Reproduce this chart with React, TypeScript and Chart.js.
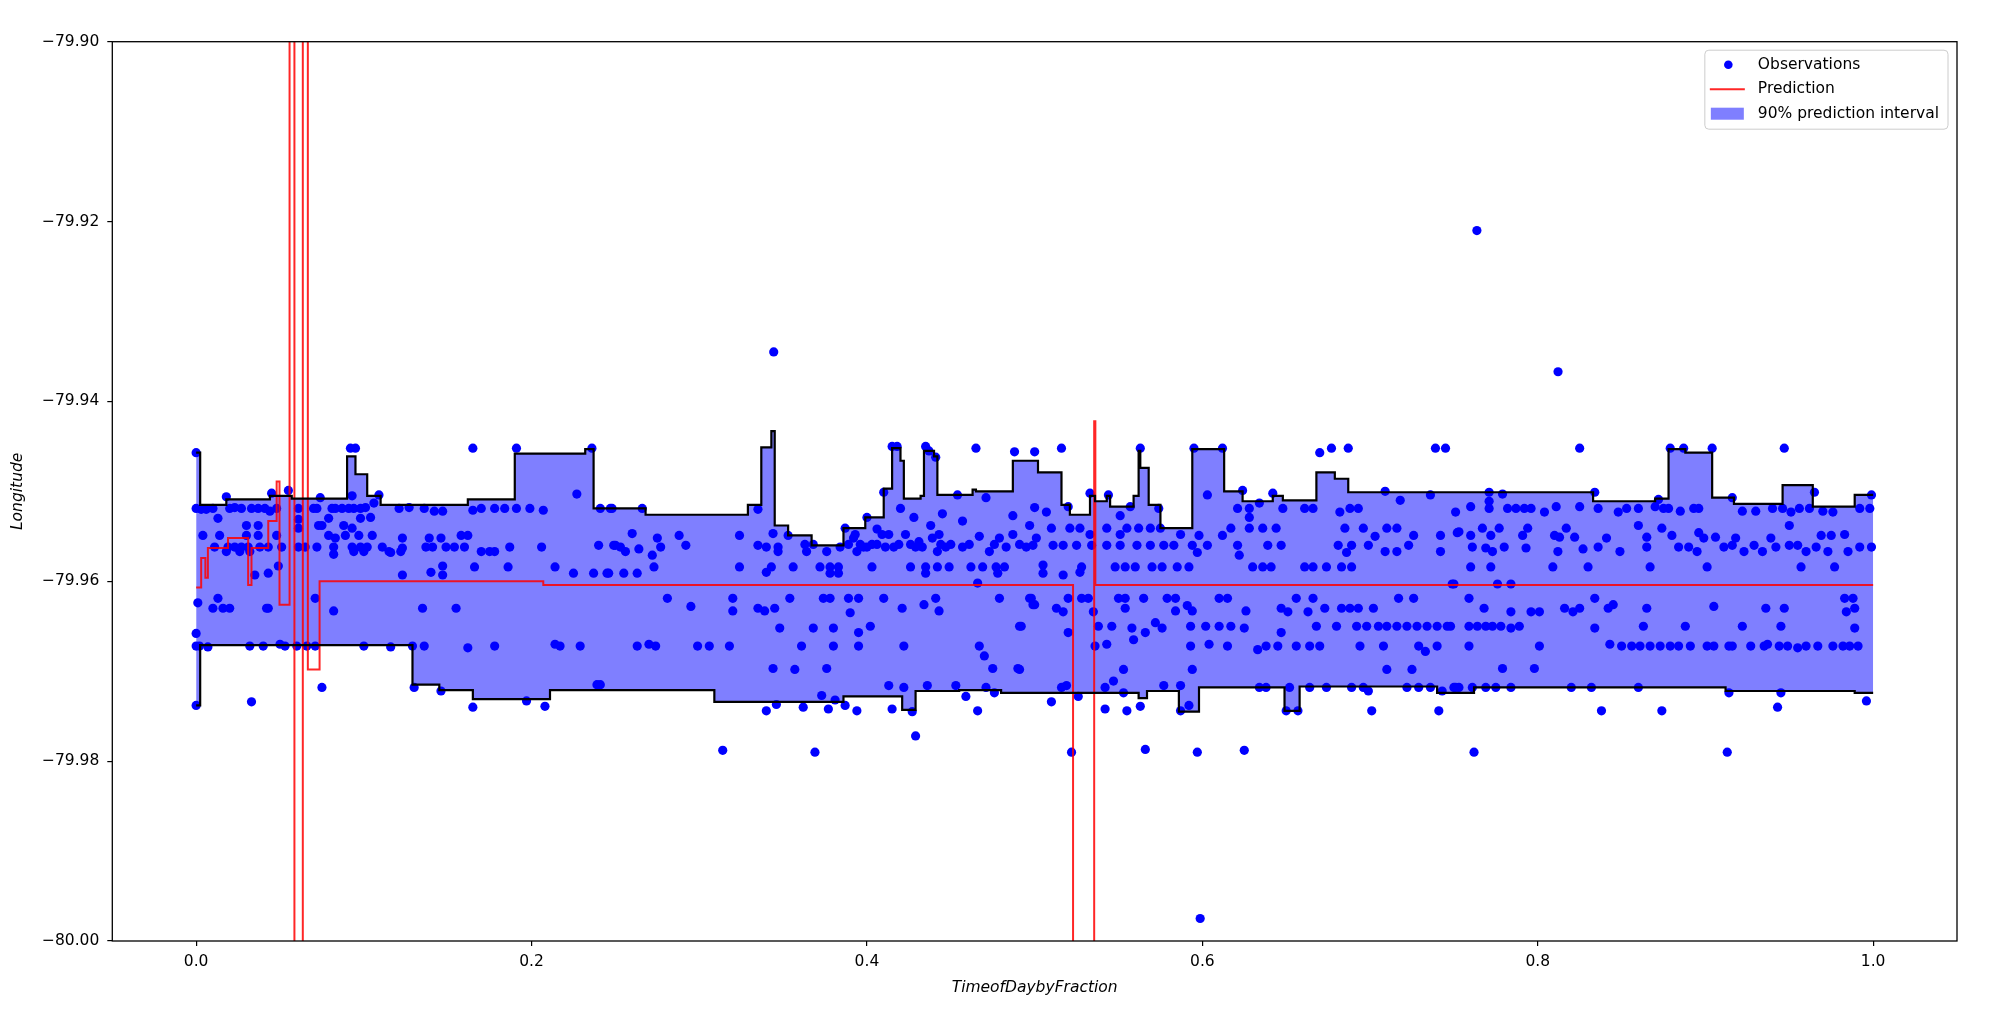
import { useEffect, useRef } from "react";
import { Chart, registerables } from "chart.js";

Chart.register(...registerables);

// tick positions
const xTicks = [0, 0.2, 0.4, 0.6, 0.8, 1.0];
const yTicks = [-80.0, -79.98, -79.96, -79.94, -79.92, -79.9];

// observations [time fraction, longitude]
const observations: [number, number][] = [
  // 0.00 - 0.25
  [0.000, -79.9457], [0.092, -79.9452], [0.095, -79.9452], [0.165, -79.9452], [0.191, -79.9452], [0.236, -79.9452],
  [0.018, -79.9506], [0.045, -79.9502], [0.055, -79.9499], [0.074, -79.9507], [0.093, -79.9505], [0.109, -79.9504], [0.227, -79.9503],
  [0.000, -79.9519], [0.003, -79.952], [0.006, -79.952], [0.010, -79.9519], [0.020, -79.9519], [0.023, -79.9518], [0.027, -79.9519],
  [0.033, -79.9519], [0.037, -79.9519], [0.041, -79.9519], [0.048, -79.9519], [0.061, -79.9519], [0.070, -79.9519], [0.072, -79.9519],
  [0.081, -79.9519], [0.083, -79.9519], [0.087, -79.9519], [0.091, -79.9519], [0.094, -79.9519], [0.098, -79.9519], [0.101, -79.9518],
  [0.106, -79.9513], [0.121, -79.9519], [0.127, -79.9518], [0.136, -79.9519], [0.142, -79.9522], [0.147, -79.9522], [0.165, -79.9521],
  [0.170, -79.9519], [0.178, -79.9519], [0.184, -79.9519], [0.191, -79.9519], [0.199, -79.9519], [0.207, -79.9521], [0.241, -79.9519],
  [0.248, -79.9519],
  [0.013, -79.953], [0.079, -79.953], [0.098, -79.953], [0.104, -79.9529], [0.044, -79.9522], [0.061, -79.9531],
  [0.030, -79.9538], [0.037, -79.9538], [0.073, -79.9538], [0.075, -79.9538], [0.088, -79.9538], [0.093, -79.9541], [0.061, -79.9541],
  [0.004, -79.9549], [0.014, -79.9549], [0.030, -79.9549], [0.037, -79.9549], [0.048, -79.9549], [0.079, -79.9549], [0.083, -79.9552],
  [0.089, -79.9549], [0.097, -79.9549], [0.105, -79.9549], [0.123, -79.9552], [0.139, -79.9552], [0.146, -79.9552], [0.158, -79.9549],
  [0.162, -79.9549],
  [0.011, -79.9562], [0.019, -79.9562], [0.023, -79.9562], [0.027, -79.9562], [0.031, -79.9562], [0.038, -79.9562], [0.043, -79.9562],
  [0.051, -79.9562], [0.061, -79.9562], [0.065, -79.9562], [0.072, -79.9562], [0.082, -79.9562], [0.093, -79.9562], [0.098, -79.9562],
  [0.102, -79.9562], [0.111, -79.9562], [0.115, -79.9567], [0.123, -79.9563], [0.137, -79.9562], [0.141, -79.9562], [0.149, -79.9562],
  [0.154, -79.9562], [0.160, -79.9562], [0.170, -79.9567], [0.175, -79.9567], [0.178, -79.9567], [0.187, -79.9562], [0.206, -79.9562],
  [0.240, -79.956], [0.250, -79.956],
  [0.018, -79.9567], [0.026, -79.9567], [0.032, -79.9567], [0.082, -79.957], [0.094, -79.9567], [0.100, -79.9567], [0.116, -79.9568],
  [0.122, -79.9567],
  [0.049, -79.9583], [0.123, -79.9593], [0.147, -79.9583], [0.166, -79.9584], [0.186, -79.9584], [0.214, -79.9584],
  [0.035, -79.9593], [0.043, -79.9591], [0.140, -79.959], [0.147, -79.9593], [0.225, -79.9591], [0.237, -79.9591], [0.246, -79.9591],
  [0.071, -79.9619], [0.001, -79.9624], [0.010, -79.963], [0.013, -79.9619], [0.016, -79.963], [0.020, -79.963], [0.042, -79.963],
  [0.043, -79.963], [0.082, -79.9633], [0.135, -79.963], [0.155, -79.963], [0.000, -79.9658],
  [0.000, -79.9672], [0.002, -79.9672], [0.007, -79.9673], [0.032, -79.9672], [0.040, -79.9672], [0.050, -79.967], [0.053, -79.9672],
  [0.060, -79.9672], [0.066, -79.9672], [0.071, -79.9672], [0.100, -79.9672], [0.116, -79.9673], [0.129, -79.9672], [0.136, -79.9672],
  [0.162, -79.9674], [0.178, -79.9672], [0.214, -79.967], [0.217, -79.9672], [0.229, -79.9672],
  [0.000, -79.9738], [0.033, -79.9734], [0.075, -79.9718], [0.130, -79.9718], [0.146, -79.9722], [0.165, -79.974], [0.197, -79.9733],
  [0.208, -79.9739], [0.239, -79.9715],
  // 0.25 - 0.50
  [0.415, -79.945], [0.418, -79.945], [0.435, -79.945], [0.437, -79.9455], [0.441, -79.9462], [0.465, -79.9452], [0.488, -79.9456],
  [0.500, -79.9456], [0.410, -79.9501], [0.454, -79.9504], [0.471, -79.9507], [0.3444, -79.9345],
  [0.247, -79.9519], [0.266, -79.9519], [0.335, -79.952], [0.420, -79.9519], [0.445, -79.9525], [0.500, -79.9518],
  [0.428, -79.9529], [0.457, -79.9533], [0.487, -79.9527], [0.400, -79.9529],
  [0.438, -79.9538], [0.497, -79.9538], [0.344, -79.9547], [0.387, -79.9541], [0.393, -79.9548],
  [0.260, -79.9547], [0.275, -79.9552], [0.288, -79.9549], [0.324, -79.9549], [0.353, -79.9549], [0.363, -79.9559], [0.364, -79.9567],
  [0.249, -79.956], [0.253, -79.9562], [0.256, -79.9567], [0.264, -79.9564], [0.272, -79.9571], [0.277, -79.9562], [0.292, -79.956],
  [0.335, -79.956], [0.340, -79.9562], [0.347, -79.9562], [0.347, -79.9567], [0.368, -79.9559], [0.376, -79.9567], [0.384, -79.9562],
  [0.392, -79.9552], [0.394, -79.9567], [0.400, -79.9562], [0.406, -79.9542], [0.409, -79.9548], [0.413, -79.9548], [0.423, -79.9548],
  [0.429, -79.9562], [0.433, -79.9562], [0.439, -79.9552], [0.443, -79.9548], [0.442, -79.9567], [0.450, -79.9559], [0.457, -79.9562],
  [0.467, -79.955], [0.473, -79.9567], [0.479, -79.9552], [0.487, -79.9548], [0.495, -79.9562], [0.501, -79.9552], [0.444, -79.9559],
  [0.419, -79.9559], [0.406, -79.9559], [0.411, -79.9562], [0.396, -79.9559], [0.389, -79.9559], [0.398, -79.9562], [0.403, -79.9559],
  [0.416, -79.9562], [0.426, -79.9559], [0.431, -79.9556], [0.447, -79.9562], [0.461, -79.9559], [0.476, -79.9559], [0.483, -79.9562],
  [0.491, -79.9559],
  [0.273, -79.9584], [0.324, -79.9584], [0.343, -79.9584], [0.356, -79.9584], [0.372, -79.9584], [0.378, -79.9584], [0.383, -79.9584],
  [0.403, -79.9584], [0.426, -79.9584], [0.435, -79.9584], [0.442, -79.9584], [0.449, -79.9584], [0.462, -79.9584], [0.469, -79.9584],
  [0.477, -79.9584], [0.482, -79.9584],
  [0.245, -79.9591], [0.255, -79.9591], [0.263, -79.9591], [0.340, -79.959], [0.378, -79.9591], [0.383, -79.9591], [0.435, -79.9591],
  [0.478, -79.9591], [0.466, -79.9602],
  [0.281, -79.9619], [0.320, -79.9619], [0.354, -79.9619], [0.374, -79.9619], [0.378, -79.9619], [0.389, -79.9619], [0.395, -79.9619],
  [0.410, -79.9619], [0.441, -79.9619], [0.479, -79.9619], [0.497, -79.9619],
  [0.295, -79.9628], [0.320, -79.9633], [0.335, -79.963], [0.339, -79.9633], [0.345, -79.963], [0.390, -79.9635], [0.421, -79.963],
  [0.434, -79.9626], [0.443, -79.9633], [0.499, -79.9626],
  [0.348, -79.9652], [0.368, -79.9652], [0.380, -79.9652], [0.395, -79.9657], [0.402, -79.965], [0.491, -79.965],
  [0.263, -79.9672], [0.270, -79.967], [0.274, -79.9672], [0.299, -79.9672], [0.306, -79.9672], [0.318, -79.9672], [0.361, -79.9672],
  [0.380, -79.9672], [0.395, -79.9672], [0.422, -79.9672], [0.467, -79.9672],
  [0.470, -79.9683], [0.344, -79.9697], [0.357, -79.9698], [0.376, -79.9697], [0.475, -79.9697], [0.490, -79.9697],
  [0.241, -79.9715], [0.413, -79.9716], [0.422, -79.9718], [0.436, -79.9716], [0.453, -79.9716], [0.459, -79.9728], [0.471, -79.9718],
  [0.476, -79.9724], [0.373, -79.9727], [0.381, -79.9732], [0.387, -79.9738], [0.346, -79.9737], [0.362, -79.974],
  [0.340, -79.9744], [0.377, -79.9742], [0.394, -79.9744], [0.415, -79.9742], [0.427, -79.9745], [0.466, -79.9744],
  [0.429, -79.9772], [0.314, -79.9788], [0.369, -79.979],
  // 0.50 - 0.75
  [0.516, -79.9452], [0.563, -79.9452], [0.595, -79.9452], [0.612, -79.9452], [0.670, -79.9457], [0.677, -79.9452], [0.687, -79.9452],
  [0.739, -79.9452], [0.745, -79.9452],
  [0.533, -79.9502], [0.544, -79.9504], [0.603, -79.9504], [0.624, -79.9499], [0.642, -79.9502], [0.709, -79.95], [0.736, -79.9504],
  [0.718, -79.951], [0.551, -79.9527],
  [0.507, -79.9523], [0.520, -79.9517], [0.557, -79.9517], [0.574, -79.9519], [0.621, -79.9519], [0.628, -79.9519], [0.634, -79.9513],
  [0.648, -79.9519], [0.661, -79.9519], [0.666, -79.9519], [0.682, -79.9523], [0.688, -79.9519], [0.693, -79.9519], [0.751, -79.9523],
  [0.628, -79.9529],
  [0.510, -79.9541], [0.521, -79.9541], [0.527, -79.9541], [0.543, -79.9541], [0.555, -79.9541], [0.562, -79.9541], [0.569, -79.9541],
  [0.575, -79.9541], [0.587, -79.9548], [0.598, -79.9549], [0.612, -79.9549], [0.617, -79.9541], [0.628, -79.9541], [0.636, -79.9541],
  [0.644, -79.9541], [0.685, -79.9541], [0.696, -79.9541], [0.703, -79.955], [0.710, -79.9541], [0.716, -79.9541], [0.726, -79.9549],
  [0.742, -79.9549], [0.752, -79.9546], [0.533, -79.9548], [0.551, -79.9548],
  [0.499, -79.956], [0.511, -79.956], [0.517, -79.956], [0.525, -79.956], [0.534, -79.956], [0.543, -79.956], [0.551, -79.956],
  [0.561, -79.956], [0.569, -79.956], [0.577, -79.956], [0.583, -79.956], [0.594, -79.956], [0.603, -79.956], [0.621, -79.956],
  [0.622, -79.9571], [0.639, -79.956], [0.647, -79.956], [0.681, -79.956], [0.689, -79.956], [0.699, -79.956], [0.723, -79.956],
  [0.686, -79.9568], [0.709, -79.9567], [0.716, -79.9567], [0.742, -79.9567], [0.597, -79.9568],
  [0.505, -79.9582], [0.505, -79.9591], [0.517, -79.9593], [0.528, -79.9584], [0.527, -79.959], [0.548, -79.9584], [0.554, -79.9584],
  [0.560, -79.9584], [0.570, -79.9584], [0.576, -79.9584], [0.585, -79.9584], [0.592, -79.9584], [0.630, -79.9584], [0.636, -79.9584],
  [0.641, -79.9584], [0.661, -79.9584], [0.666, -79.9584], [0.674, -79.9584], [0.683, -79.9584], [0.689, -79.9584], [0.750, -79.9603],
  [0.498, -79.9619], [0.500, -79.9626], [0.513, -79.963], [0.517, -79.9634], [0.520, -79.9619], [0.528, -79.9619], [0.532, -79.9619],
  [0.535, -79.9634], [0.550, -79.9619], [0.554, -79.9619], [0.554, -79.963], [0.565, -79.9619], [0.579, -79.9619], [0.584, -79.9619],
  [0.584, -79.9633], [0.591, -79.9627], [0.594, -79.9633], [0.610, -79.9619], [0.615, -79.9619], [0.626, -79.9633], [0.647, -79.963],
  [0.651, -79.9634], [0.656, -79.9619], [0.663, -79.9634], [0.666, -79.9619], [0.673, -79.963], [0.683, -79.963], [0.688, -79.963],
  [0.693, -79.963], [0.702, -79.963], [0.717, -79.9619], [0.726, -79.9619],
  [0.492, -79.965], [0.538, -79.965], [0.546, -79.965], [0.558, -79.9652], [0.572, -79.9646], [0.576, -79.9652], [0.593, -79.965],
  [0.602, -79.965], [0.610, -79.965], [0.617, -79.965], [0.625, -79.9652], [0.647, -79.9657], [0.668, -79.965], [0.680, -79.965],
  [0.692, -79.965], [0.698, -79.965], [0.705, -79.965], [0.710, -79.965], [0.716, -79.965], [0.722, -79.965], [0.728, -79.965],
  [0.734, -79.965], [0.740, -79.965], [0.746, -79.965], [0.566, -79.9657], [0.559, -79.9665],
  [0.520, -79.9657], [0.536, -79.9672], [0.543, -79.967], [0.593, -79.9672], [0.604, -79.967], [0.615, -79.9672], [0.633, -79.9676],
  [0.638, -79.9672], [0.645, -79.9672], [0.656, -79.9672], [0.664, -79.9672], [0.670, -79.9672], [0.694, -79.9672], [0.708, -79.9672],
  [0.729, -79.9672], [0.733, -79.9678], [0.740, -79.9672],
  [0.491, -79.9698], [0.553, -79.9698], [0.594, -79.9698], [0.710, -79.9698], [0.725, -79.9698],
  [0.516, -79.9718], [0.519, -79.9716], [0.542, -79.9718], [0.547, -79.9711], [0.577, -79.9716], [0.587, -79.9716], [0.634, -79.9718],
  [0.638, -79.9718], [0.652, -79.9718], [0.664, -79.9718], [0.674, -79.9718], [0.689, -79.9718], [0.696, -79.9718], [0.722, -79.9718],
  [0.729, -79.9718], [0.736, -79.9718], [0.751, -79.9718], [0.743, -79.9722],
  [0.526, -79.9728], [0.510, -79.9734], [0.553, -79.9724], [0.563, -79.9739], [0.542, -79.9742], [0.555, -79.9744], [0.592, -79.9738],
  [0.587, -79.9744], [0.650, -79.9744], [0.657, -79.9744], [0.699, -79.9722], [0.701, -79.9744], [0.741, -79.9744],
  [0.522, -79.979], [0.566, -79.9787], [0.597, -79.979], [0.625, -79.9788], [0.5987, -79.9975],
  // 0.75 - 1.00
  [0.825, -79.9452], [0.879, -79.9452], [0.887, -79.9452], [0.904, -79.9452], [0.947, -79.9452], [0.7637, -79.921], [0.8121, -79.9367],
  [0.771, -79.9501], [0.779, -79.9503], [0.771, -79.9511], [0.771, -79.9519], [0.834, -79.9501], [0.872, -79.9509], [0.916, -79.9507],
  [0.965, -79.9501], [0.999, -79.9504],
  [0.760, -79.9517], [0.782, -79.9519], [0.787, -79.9519], [0.792, -79.9519], [0.796, -79.9519], [0.804, -79.9523], [0.811, -79.9517],
  [0.825, -79.9517], [0.836, -79.9519], [0.848, -79.9523], [0.853, -79.9519], [0.860, -79.9519], [0.870, -79.9517], [0.875, -79.9519],
  [0.878, -79.9519], [0.885, -79.9522], [0.893, -79.9519], [0.896, -79.9519], [0.922, -79.9522], [0.930, -79.9522], [0.940, -79.9519],
  [0.946, -79.9519], [0.951, -79.9523], [0.956, -79.9519], [0.962, -79.9519], [0.970, -79.9522], [0.976, -79.9523], [0.992, -79.9519],
  [0.998, -79.9519],
  [0.753, -79.9545], [0.760, -79.9549], [0.767, -79.9541], [0.772, -79.9549], [0.777, -79.9541], [0.791, -79.9549], [0.794, -79.9541],
  [0.810, -79.9549], [0.817, -79.9541], [0.822, -79.9551], [0.841, -79.9552], [0.860, -79.9538], [0.865, -79.9551], [0.874, -79.9541],
  [0.880, -79.9549], [0.896, -79.9546], [0.899, -79.9552], [0.906, -79.9551], [0.918, -79.9552], [0.939, -79.9552], [0.950, -79.9538],
  [0.969, -79.9549], [0.975, -79.9549], [0.983, -79.9548], [0.813, -79.9551],
  [0.761, -79.9562], [0.769, -79.9563], [0.773, -79.9567], [0.780, -79.9562], [0.793, -79.9563], [0.812, -79.9567], [0.827, -79.9564],
  [0.836, -79.9562], [0.849, -79.9567], [0.865, -79.9562], [0.884, -79.9562], [0.890, -79.9562], [0.895, -79.9567], [0.911, -79.9562],
  [0.916, -79.956], [0.923, -79.9567], [0.929, -79.956], [0.934, -79.9567], [0.942, -79.9562], [0.950, -79.956], [0.955, -79.956],
  [0.960, -79.9567], [0.966, -79.9562], [0.973, -79.9567], [0.985, -79.9567], [0.992, -79.9562], [0.999, -79.9562],
  [0.760, -79.9584], [0.772, -79.9584], [0.809, -79.9584], [0.830, -79.9584], [0.867, -79.9584], [0.901, -79.9584], [0.957, -79.9584],
  [0.977, -79.9584], [0.749, -79.9603], [0.776, -79.9603], [0.784, -79.9603],
  [0.759, -79.9619], [0.768, -79.963], [0.784, -79.9634], [0.796, -79.9634], [0.801, -79.9634], [0.816, -79.963], [0.821, -79.9634],
  [0.825, -79.963], [0.834, -79.9619], [0.842, -79.963], [0.845, -79.9626], [0.865, -79.963], [0.905, -79.9628], [0.936, -79.963],
  [0.947, -79.963], [0.983, -79.9619], [0.988, -79.9619], [0.984, -79.9634], [0.989, -79.963],
  [0.748, -79.965], [0.759, -79.965], [0.764, -79.965], [0.769, -79.965], [0.773, -79.965], [0.778, -79.965], [0.784, -79.9652],
  [0.789, -79.965], [0.834, -79.9652], [0.863, -79.965], [0.888, -79.965], [0.922, -79.965], [0.945, -79.965], [0.989, -79.9652],
  [0.759, -79.9672], [0.801, -79.9672], [0.843, -79.967], [0.850, -79.9672], [0.856, -79.9672], [0.861, -79.9672], [0.867, -79.9672],
  [0.873, -79.9672], [0.879, -79.9672], [0.884, -79.9672], [0.891, -79.9672], [0.901, -79.9672], [0.905, -79.9672], [0.914, -79.9672],
  [0.916, -79.9672], [0.927, -79.9672], [0.935, -79.9672], [0.937, -79.967], [0.944, -79.9672], [0.949, -79.9672], [0.955, -79.9674],
  [0.960, -79.9672], [0.967, -79.9672], [0.976, -79.9672], [0.982, -79.9672], [0.986, -79.9672], [0.991, -79.9672],
  [0.779, -79.9697], [0.798, -79.9697],
  [0.750, -79.9718], [0.753, -79.9718], [0.761, -79.9718], [0.769, -79.9718], [0.775, -79.9718], [0.784, -79.9718], [0.820, -79.9718],
  [0.832, -79.9718], [0.860, -79.9718], [0.914, -79.9724], [0.945, -79.9724],
  [0.838, -79.9744], [0.874, -79.9744], [0.943, -79.974], [0.996, -79.9733], [0.762, -79.979], [0.913, -79.979],
];

// 90% interval bounds: [time where the level starts, longitude]
const upperBound: [number, number][] = [
  [0, -79.9457], [0.0024, -79.9515], [0.018, -79.9509], [0.044, -79.9505], [0.057, -79.9508], [0.09, -79.9461],
  [0.095, -79.9481], [0.102, -79.9505], [0.11, -79.9515], [0.162, -79.9509], [0.19, -79.9458], [0.232, -79.9453],
  [0.237, -79.9519], [0.268, -79.9526], [0.329, -79.9515], [0.337, -79.9451], [0.343, -79.9433], [0.345, -79.9538],
  [0.353, -79.9549], [0.367, -79.956], [0.386, -79.9541], [0.399, -79.9529], [0.41, -79.9497], [0.415, -79.9452],
  [0.42, -79.9466], [0.422, -79.9508], [0.432, -79.9505], [0.434, -79.9455], [0.44, -79.9461], [0.442, -79.9504],
  [0.463, -79.9498], [0.465, -79.95], [0.487, -79.9466], [0.502, -79.9479], [0.516, -79.9515], [0.521, -79.9526],
  [0.533, -79.9505], [0.536, -79.9511], [0.543, -79.9505], [0.545, -79.9517], [0.559, -79.9505], [0.562, -79.9455],
  [0.563, -79.9474], [0.568, -79.9515], [0.575, -79.9541], [0.594, -79.9453], [0.613, -79.95], [0.624, -79.9511],
  [0.642, -79.9505], [0.648, -79.951], [0.668, -79.9479], [0.679, -79.9486], [0.687, -79.9501], [0.833, -79.9511],
  [0.87, -79.9508], [0.878, -79.9453], [0.888, -79.9457], [0.904, -79.9507], [0.917, -79.9514], [0.946, -79.9493],
  [0.964, -79.9517], [0.989, -79.9504], [1.0, -79.9504],
];

const lowerBound: [number, number][] = [
  [0, -79.9738], [0.0024, -79.9671], [0.129, -79.9715], [0.145, -79.9721], [0.165, -79.9731], [0.211, -79.9721],
  [0.309, -79.9734], [0.386, -79.9728], [0.421, -79.9743], [0.429, -79.9722], [0.455, -79.9721], [0.48, -79.9724],
  [0.562, -79.973], [0.567, -79.9722], [0.586, -79.9745], [0.598, -79.9718], [0.649, -79.9744], [0.658, -79.9717],
  [0.74, -79.9724], [0.762, -79.9718], [0.912, -79.9722], [0.989, -79.9724], [1.0, -79.9724],
];

// prediction (step function, spikes run far off the axes)
const prediction: [number, number][] = [
  [0, -79.9607], [0.003, -79.9574], [0.0055, -79.9596], [0.007, -79.9563], [0.019, -79.9552], [0.031, -79.9604],
  [0.033, -79.9563], [0.043, -79.9533], [0.048, -79.9489], [0.0497, -79.9626], [0.0557, -79.7], [0.0586, -80.3],
  [0.0636, -79.7], [0.0666, -79.9698], [0.0736, -79.96], [0.207, -79.9604], [0.5229, -80.3], [0.5355, -79.9422],
  [0.5362, -79.9604], [1.0, -79.9604],
];

const FONT = "DejaVu Sans";
const FILL = "rgba(0, 0, 255, 0.5)";
const RED = "rgba(255, 0, 0, 0.85)";

function levelAt(steps: [number, number][], x: number) {
  let v = steps[0][1];
  for (const [sx, sy] of steps) {
    if (sx <= x) v = sy;
    else break;
  }
  return v;
}

const legendItems = [
  { label: "Observations", kind: "dot" },
  { label: "Prediction", kind: "line" },
  { label: "90% prediction interval", kind: "patch" },
];

// axes frame + matplotlib-like legend in the upper right corner
const frameAndLegend = {
  id: "frameAndLegend",
  afterDraw(chart: Chart) {
    const { ctx, chartArea: a } = chart;
    ctx.save();
    ctx.strokeStyle = "#000";
    ctx.lineWidth = 1.3;
    ctx.strokeRect(a.left, a.top, a.right - a.left, a.bottom - a.top);

    ctx.font = `15.5px '${FONT}'`;
    const textW = Math.max(...legendItems.map((i) => ctx.measureText(i.label).width));
    const boxW = 53 + textW + 9;
    const boxH = 79;
    const bx = a.right - 9 - boxW;
    const by = a.top + 8.5;
    ctx.beginPath();
    ctx.roundRect(bx, by, boxW, boxH, 4);
    ctx.fillStyle = "rgba(255,255,255,0.8)";
    ctx.fill();
    ctx.strokeStyle = "#cccccc";
    ctx.lineWidth = 1;
    ctx.stroke();

    legendItems.forEach((item, i) => {
      const cy = by + 14.5 + i * 24.5;
      if (item.kind === "dot") {
        ctx.beginPath();
        ctx.arc(bx + 23.5, cy, 4.3, 0, Math.PI * 2);
        ctx.fillStyle = "#0000ff";
        ctx.fill();
      } else if (item.kind === "line") {
        ctx.beginPath();
        ctx.moveTo(bx + 5, cy);
        ctx.lineTo(bx + 40, cy);
        ctx.strokeStyle = RED;
        ctx.lineWidth = 2;
        ctx.stroke();
      } else {
        ctx.fillStyle = FILL;
        ctx.fillRect(bx + 6, cy - 6, 33, 12);
      }
      ctx.fillStyle = "#000";
      ctx.textAlign = "left";
      ctx.textBaseline = "middle";
      ctx.fillText(item.label, bx + 53, cy);
    });
    ctx.restore();
  },
};

export default function App() {
  const canvasRef = useRef<HTMLCanvasElement>(null);
  const chartRef = useRef<Chart | null>(null);

  useEffect(() => {
    if (!canvasRef.current) return;
    if (chartRef.current) chartRef.current.destroy();

    const bandX = Array.from(
      new Set([...upperBound.map((p) => p[0]), ...lowerBound.map((p) => p[0])])
    ).sort((a, b) => a - b);

    const tickFont = { family: FONT, size: 15.5 };

    chartRef.current = new Chart(canvasRef.current, {
      type: "scatter",
      data: {
        datasets: [
          {
            type: "line",
            label: "upper",
            data: bandX.map((x) => ({ x, y: levelAt(upperBound, x) })),
            stepped: "before",
            borderColor: "#000",
            borderWidth: 2.2,
            pointRadius: 0,
            fill: "+1",
            backgroundColor: FILL,
            order: 0,
          },
          {
            type: "line",
            label: "lower",
            data: bandX.map((x) => ({ x, y: levelAt(lowerBound, x) })),
            stepped: "before",
            borderColor: "#000",
            borderWidth: 2.2,
            pointRadius: 0,
            fill: false,
            order: 1,
          },
          {
            type: "line",
            label: "Prediction",
            data: prediction.map(([x, y]) => ({ x, y })),
            stepped: "before",
            borderColor: RED,
            borderWidth: 2,
            pointRadius: 0,
            fill: false,
            order: 2,
          },
          {
            label: "Observations",
            data: observations.map(([x, y]) => ({ x, y })),
            pointRadius: 4.6,
            pointHoverRadius: 4.6,
            backgroundColor: "#0000ff",
            borderWidth: 0,
            order: 3,
          },
        ],
      },
      options: {
        animation: false,
        responsive: true,
        maintainAspectRatio: false,
        layout: { autoPadding: false, padding: { left: 0, top: 41.7, right: 33, bottom: 0 } },
        plugins: {
          legend: { display: false },
          tooltip: { enabled: false },
          filler: { drawTime: "beforeDatasetsDraw" },
        },
        scales: {
          x: {
            type: "linear",
            min: -0.05,
            max: 1.05,
            afterBuildTicks: (s: any) => {
              s.ticks = xTicks.map((value) => ({ value }));
            },
            afterFit: (s: any) => {
              s.height = 91;
            },
            ticks: {
              callback: (v: any) => Number(v).toFixed(1),
              font: tickFont,
              color: "#000",
              padding: 7,
              maxRotation: 0,
              autoSkip: false,
            },
            grid: { drawOnChartArea: false, drawTicks: true, tickLength: 5, color: "#000", lineWidth: 1.2 },
            border: { display: false },
            title: {
              display: true,
              text: "TimeofDaybyFraction",
              font: { family: FONT, size: 15.5, style: "italic" },
              color: "#000",
              padding: { top: 0, bottom: 35 },
            },
          },
          y: {
            type: "linear",
            min: -80,
            max: -79.9,
            afterBuildTicks: (s: any) => {
              s.ticks = yTicks.map((value) => ({ value }));
            },
            afterFit: (s: any) => {
              s.width = 112.3;
            },
            ticks: {
              callback: (v: any) => "\u2212" + Math.abs(Number(v)).toFixed(2),
              font: tickFont,
              color: "#000",
              padding: 8,
              autoSkip: false,
            },
            grid: { drawOnChartArea: false, drawTicks: true, tickLength: 5, color: "#000", lineWidth: 1.2 },
            border: { display: false },
            title: {
              display: true,
              text: "Longitude",
              font: { family: FONT, size: 15.5, style: "italic" },
              color: "#000",
              padding: { top: 8.7, bottom: 0 },
            },
          },
        },
      },
      plugins: [frameAndLegend],
    } as any);

    return () => {
      if (chartRef.current) {
        chartRef.current.destroy();
        chartRef.current = null;
      }
    };
  }, []);

  return (
    <div style={{ position: "absolute", left: 0, top: 0, width: 1990, height: 1032, background: "#fff" }}>
      <canvas ref={canvasRef} />
    </div>
  );
}
